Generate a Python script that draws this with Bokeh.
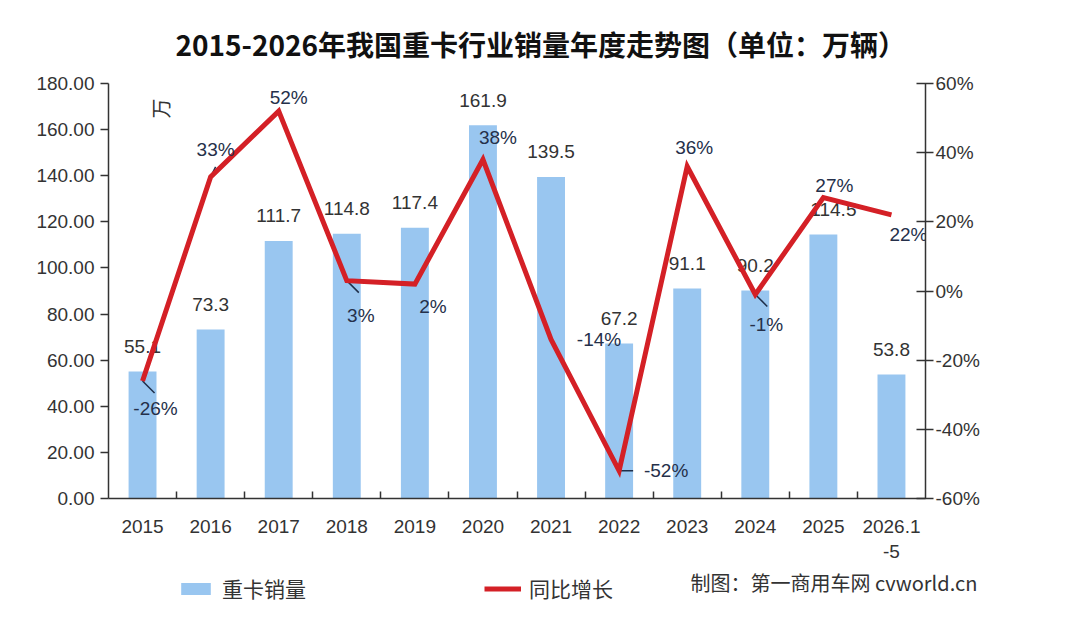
from bokeh.plotting import figure
from bokeh.layouts import column
from bokeh.models import (Range1d, LinearAxis, FixedTicker, NumeralTickFormatter,
                          ColumnDataSource, Label, Legend, LegendItem)
from bokeh.core.properties import value
from bokeh.embed import file_html
from bokeh.resources import INLINE
import math

# ---- data ----
years = ["2015", "2016", "2017", "2018", "2019", "2020", "2021", "2022", "2023", "2024", "2025", "2026.1\n-5"]
sales = [55.1, 73.3, 111.7, 114.8, 117.4, 161.9, 139.5, 67.2, 91.1, 90.2, 114.5, 53.8]
growth = [-26, 33, 52, 3, 2, 38, -14, -52, 36, -1, 27, 22]
sales_labels = ["55.1", "73.3", "111.7", "114.8", "117.4", "161.9", "139.5", "67.2", "91.1", "90.2", "114.5", "53.8"]
growth_labels = [f"{g}%" for g in growth]
left_ticks = [0, 20, 40, 60, 80, 100, 120, 140, 160, 180]
right_ticks = [-0.6, -0.4, -0.2, 0, 0.2, 0.4, 0.6]

# ---- style (label offsets in px) ----
pct_dx = [13, 5, 10, 14, 18, 15, 48, 47, 7, 11, 11, 17]
pct_dy = [28, -27, -14, 35, 22, -22, 0, 0, -19, 30, -12, 20]
bar_dx = [0, 0, 0, 0, 0, 0, 0, 0, 0, 0, 10, 0]

W = 1076
H1, H2 = 565, 64
FL, FR, FT, FB = 108, 925, 83, 498

xs = [i + 0.5 for i in range(len(years))]
gfrac = [g / 100 for g in growth]

src = ColumnDataSource(dict(x=xs, sales=sales, slab=sales_labels, bdx=bar_dx,
                            g=gfrac, glab=growth_labels, pdx=pct_dx, pdy=pct_dy))

FONT = "Liberation Sans"
CJK = "Noto Sans CJK SC"
TXT = "#333333"
NUM = "19px"
BAR_C = "#99c6f0"
LINE_C = "#d42026"

p = figure(width=W, height=H1, output_backend="svg", toolbar_location=None,
           x_range=Range1d(0, 12), y_range=Range1d(0, 180),
           min_border_left=FL, min_border_right=W - FR, min_border_top=FT,
           min_border_bottom=H1 - FB,
           title="2015-2026年我国重卡行业销量年度走势图（单位：万辆）")
p.frame_align = False
p.title.align = "left"
p.title.text_font = CJK
p.title.text_font_size = "28px"
p.title.text_font_style = "bold"
p.title.text_color = "#111111"
p.title.offset = 175 - FL
p.title.standoff = 39
p.outline_line_color = None
p.xgrid.visible = False
p.ygrid.visible = False
p.extra_y_ranges = {"pct": Range1d(-0.6, 0.6)}

# x axis
xa = p.xaxis[0]
xa.ticker = FixedTicker(ticks=xs, minor_ticks=list(range(1, 12)))
xa.major_label_overrides = {x: y for x, y in zip(xs, years)}
xa.major_tick_line_color = None
xa.minor_tick_in = 7
xa.minor_tick_out = 0
xa.minor_tick_line_color = "#333333"
xa.minor_tick_line_width = 1.5
xa.axis_line_color = "#333333"
xa.axis_line_width = 1.5
xa.major_label_text_font = FONT
xa.major_label_text_font_size = NUM
xa.major_label_text_color = TXT
xa.major_label_standoff = 11

# left axis
ya = p.yaxis[0]
ya.ticker = FixedTicker(ticks=left_ticks)
ya.formatter = NumeralTickFormatter(format="0.00")
ya.major_tick_in = 0
ya.major_tick_out = 8
ya.minor_tick_line_color = None
ya.axis_line_color = "#333333"
ya.major_tick_line_color = "#333333"
ya.axis_line_width = 1.5
ya.major_tick_line_width = 1.5
ya.major_label_text_font = FONT
ya.major_label_text_font_size = NUM
ya.major_label_text_color = TXT
ya.major_label_standoff = 6

# right axis
ra = LinearAxis(y_range_name="pct", ticker=FixedTicker(ticks=right_ticks),
                formatter=NumeralTickFormatter(format="0%"))
ra.major_tick_in = 9
ra.major_tick_out = 8
ra.minor_tick_line_color = None
ra.axis_line_color = "#333333"
ra.major_tick_line_color = "#333333"
ra.axis_line_width = 1.5
ra.major_tick_line_width = 1.5
ra.major_label_text_font = FONT
ra.major_label_text_font_size = NUM
ra.major_label_text_color = TXT
ra.major_label_standoff = 2
p.add_layout(ra, "right")

# bars
p.vbar(x="x", top="sales", width=0.41, bottom=0, source=src,
       fill_color=BAR_C, line_color=None)
p.text(x="x", y="sales", text="slab", source=src, x_offset="bdx", y_offset=-25,
       text_align="center", text_baseline="middle", text_font=value(FONT),
       text_font_size=NUM, text_color=TXT)

# leader lines (short dark ticks from the point toward its label)
px_x = 12 / (FR - FL)
px_y = 1.2 / (FB - FT)
lead_idx = [0, 1, 3, 7, 9]
lead_len = [(12, 12), (5, -10), (12, 12), (14, 0), (12, 12)]
lx0 = [xs[i] for i in lead_idx]
ly0 = [gfrac[i] for i in lead_idx]
lx1 = [xs[i] + d[0] * px_x for i, d in zip(lead_idx, lead_len)]
ly1 = [gfrac[i] - d[1] * px_y for i, d in zip(lead_idx, lead_len)]
p.segment(x0=lx0, y0=ly0, x1=lx1, y1=ly1, y_range_name="pct",
          line_color="#1f2f4a", line_width=1.5)

# line
p.line(x="x", y="g", source=src, y_range_name="pct",
       line_color=LINE_C, line_width=5, line_join="miter")
p.text(x="x", y="g", text="glab", source=src, y_range_name="pct",
       x_offset="pdx", y_offset="pdy", text_align="center", text_baseline="middle",
       text_font=value(FONT), text_font_size=NUM, text_color="#25304a")

# unit label
p.text(x=[(160 - FL) / (FR - FL) * 12], y=[(FB - 108) / (FB - FT) * 180], text=["万"],
       angle=math.pi / 2, text_align="center", text_baseline="middle",
       text_font=value(CJK), text_font_size="20px", text_color=TXT)

# ---- bottom strip: legend + credit (full-width frame, pixel coordinates) ----
p2 = figure(width=W, height=H2, output_backend="svg", toolbar_location=None,
            x_range=Range1d(0, W), y_range=Range1d(H2, 0),
            min_border_left=0, min_border_right=0,
            min_border_top=0, min_border_bottom=0)
p2.frame_align = False
p2.axis.visible = False
p2.grid.visible = False
p2.outline_line_color = None
# off-range proxies so the legend can draw its swatches
lb = p2.vbar(x=[-9999], top=[0], width=1, fill_color=BAR_C, line_color=None)
ll = p2.line(x=[-9999, -9998], y=[0, 0], line_color=LINE_C, line_width=5)
legend = Legend(items=[LegendItem(label="重卡销量", renderers=[lb]),
                       LegendItem(label="同比增长", renderers=[ll])],
                location=(177, 26), orientation="horizontal",
                glyph_width=37, glyph_height=15, label_standoff=8, spacing=178,
                padding=0, margin=0, border_line_color=None,
                background_fill_alpha=0, label_text_font=CJK,
                label_text_font_size="21px", label_text_color=TXT)
p2.add_layout(legend, "center")
p2.add_layout(Label(x=690, y=2, text="制图：第一商用车网 cvworld.cn",
                    text_align="left", text_baseline="top",
                    text_font=CJK, text_font_size="20px", text_color=TXT))

open("out.html", "w").write(file_html(column(p, p2, spacing=0), INLINE))
